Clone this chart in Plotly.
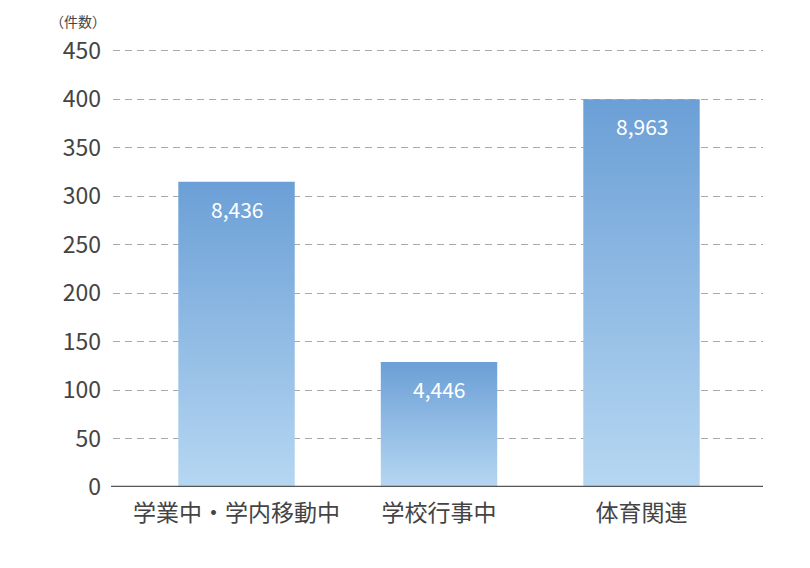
import plotly.graph_objects as go

categories = ["学業中・学内移動中", "学校行事中", "体育関連"]
bar_values = [315, 129, 400]
bar_labels = ["8,436", "4,446", "8,963"]
y_ticks = [0, 50, 100, 150, 200, 250, 300, 350, 400, 450]

BAR_W = 0.575
TOP_COLOR = "#6b9fd6"
BOTTOM_COLOR = "#b6d7f2"
FONT = "Noto Sans CJK JP"

fig = go.Figure()
for i, (cat, v) in enumerate(zip(categories, bar_values)):
    x0, x1 = i - BAR_W / 2, i + BAR_W / 2
    fig.add_trace(go.Scatter(
        x=[x0, x1, x1, x0, x0],
        y=[0, 0, v, v, 0],
        mode="lines",
        line=dict(width=0),
        fill="toself",
        fillgradient=dict(
            type="vertical",
            colorscale=[[0, BOTTOM_COLOR], [1, TOP_COLOR]],
        ),
        name=cat,
        hoverinfo="skip",
        showlegend=False,
    ))
    fig.add_annotation(
        x=i, y=v, xref="x", yref="y",
        text=bar_labels[i], showarrow=False,
        yanchor="top", yshift=-10,
        font=dict(size=21, color="white", family=FONT),
    )

fig.add_annotation(
    xref="paper", yref="paper", x=-0.1, y=1.062,
    xanchor="left", yanchor="middle",
    text="（件数）", showarrow=False,
    font=dict(size=14, color="#444", family=FONT),
)

fig.update_layout(
    width=810, height=568,
    margin=dict(l=105, r=55, t=40, b=89),
    plot_bgcolor="white", paper_bgcolor="white",
    font=dict(family=FONT, color="#444"),
    xaxis=dict(
        range=[-0.61, 2.6],
        tickvals=[0, 1, 2],
        ticktext=categories,
        showgrid=False, zeroline=False, showline=False,
        tickfont=dict(size=23, color="#444"),
        ticks="", ticklabelstandoff=10,
    ),
    yaxis=dict(
        range=[0, 453],
        tickvals=y_ticks,
        showgrid=True, gridcolor="#aaaaaa", gridwidth=1, griddash="7px,5px",
        zeroline=False, showline=False,
        tickfont=dict(size=23, color="#444"),
        ticks="", ticklabelstandoff=11,
    ),
    showlegend=False,
)
fig.add_shape(type="line", xref="paper", yref="y", x0=-0.003, x1=1, y0=0, y1=0,
              line=dict(color="#555", width=2.5), layer="above")

fig.write_html("out.html")
